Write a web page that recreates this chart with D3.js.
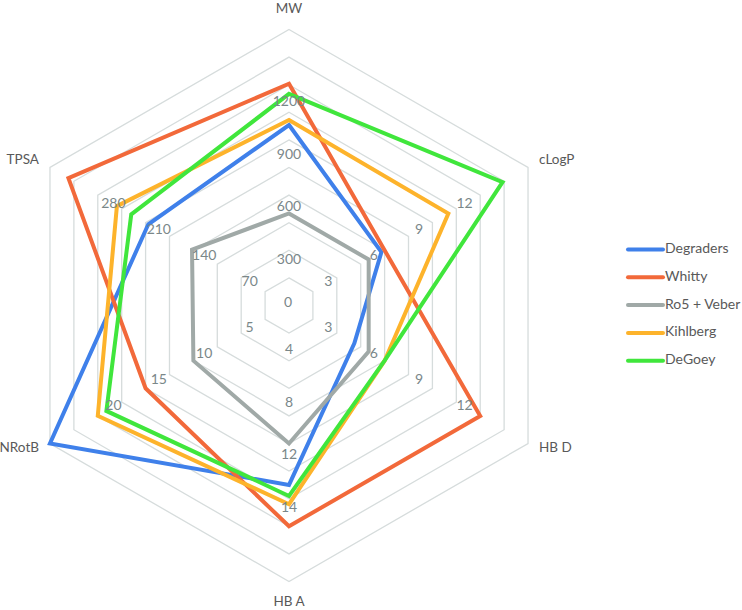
<!DOCTYPE html>
<html>
<head>
<meta charset="utf-8">
<script src="https://cdn.jsdelivr.net/npm/d3@7"></script>
<style>
  html, body { margin: 0; padding: 0; background: #fff; }
  svg { display: block; }
  text { font-family: Lato, "Open Sans", sans-serif; }
</style>
</head>
<body>
<svg id="chart" width="742" height="610"></svg>
<script>
// ---- data ----
const axes = ["MW", "cLogP", "HB D", "HB A", "NRotB", "TPSA"];
const axisMax = [1500, 15, 15, 20, 25, 350];
const tickLevels = [0.2, 0.4, 0.6, 0.8];
const tickLabels = [
  ["300", "600", "900", "1200"],
  ["3", "6", "9", "12"],
  ["3", "6", "9", "12"],
  ["4", "8", "12", "14"],
  ["5", "10", "15", "20"],
  ["70", "140", "210", "280"]
];
const seriesNames = ["Degraders", "Whitty", "Ro5 + Veber", "Kihlberg", "DeGoey"];
const degraders = [981, 5.8, 4.1, 13.0, 25, 206];
const whitty    = [1205, 6.0, 12.0, 16.0, 15, 323];
const ro5Veber  = [500, 5.0, 5.0, 10.0, 10, 142];
const kihlberg  = [1008, 10.0, 6.0, 14.4, 20, 252];
const deGoey    = [1150, 13.4, 6.0, 13.8, 19.1, 231];
const seriesValues = [degraders, whitty, ro5Veber, kihlberg, deGoey];
const seriesColors = ["#3F80EA", "#F2693A", "#A0A9A7", "#FDB32B", "#40E63C"];

// ---- layout ----
const cx = 289, cy = 305.5, R = 276;
const svg = d3.select("#chart");
const angle = d3.scaleLinear().domain([0, axes.length]).range([-Math.PI / 2, 1.5 * Math.PI]);
const radial = axes.map((a, i) => d3.scaleLinear().domain([0, axisMax[i]]).range([0, R]));
const pt = (i, r) => [cx + r * Math.cos(angle(i)), cy + r * Math.sin(angle(i))];

// grid
const gridLevels = d3.range(1, 11).map(k => k / 10);
const gridLine = d3.line().curve(d3.curveLinearClosed);
svg.append("g").selectAll("path").data(gridLevels).join("path")
  .attr("d", f => gridLine(axes.map((a, i) => pt(i, f * R))))
  .attr("fill", "none")
  .attr("stroke", "#D6DCDC")
  .attr("stroke-width", 1.3);

// series
const lineGen = d3.line().curve(d3.curveLinearClosed);
svg.append("g").selectAll("path").data(seriesValues).join("path")
  .attr("d", vals => lineGen(vals.map((v, i) => pt(i, radial[i](v)))))
  .attr("fill", "none")
  .attr("stroke", (d, k) => seriesColors[k])
  .attr("stroke-width", 4)
  .attr("stroke-linejoin", "miter");

// tick labels
const tg = svg.append("g").attr("font-size", 14).attr("fill", "#7A8789");
tg.append("text").attr("x", cx - 1).attr("y", cy - 2).attr("text-anchor", "middle")
  .attr("dominant-baseline", "middle").text("0");
axes.forEach((a, i) => {
  tickLevels.forEach((lv, j) => {
    const rr = lv * R * 0.95 - 7;
    const [x, y] = pt(i, rr);
    tg.append("text").attr("x", x).attr("y", y)
      .attr("text-anchor", "middle").attr("dominant-baseline", "middle")
      .text(tickLabels[i][j]);
  });
});

// axis labels
const ag = svg.append("g").attr("font-size", 13.5).attr("fill", "#595959");
axes.forEach((a, i) => {
  const [vx, vy] = pt(i, R);
  const c = Math.cos(angle(i)), s = Math.sin(angle(i));
  let x = vx, y = vy, anchor = "middle";
  if (Math.abs(c) < 0.01) {
    y = vy + (s < 0 ? -20 : 21);
  } else {
    anchor = c > 0 ? "start" : "end";
    x = vx + (c > 0 ? 11 : -11);
    y = vy + (s < 0 ? -7 : 5.5);
  }
  ag.append("text").attr("x", x).attr("y", y).attr("text-anchor", anchor)
    .attr("dominant-baseline", "middle").text(a);
});

// legend
const lg = svg.append("g").attr("transform", "translate(628,249.5)");
const leg = lg.selectAll("g").data(seriesNames).join("g")
  .attr("transform", (d, k) => `translate(0,${k * 27.8})`);
leg.append("line").attr("x1", 0).attr("x2", 35).attr("y1", 0).attr("y2", 0)
  .attr("stroke", (d, k) => seriesColors[k]).attr("stroke-width", 4)
  .attr("stroke-linecap", "round");
leg.append("text").attr("x", 37).attr("y", 0).attr("dominant-baseline", "middle")
  .attr("font-size", 14).attr("fill", "#595959").text(d => d);
</script>
</body>
</html>
